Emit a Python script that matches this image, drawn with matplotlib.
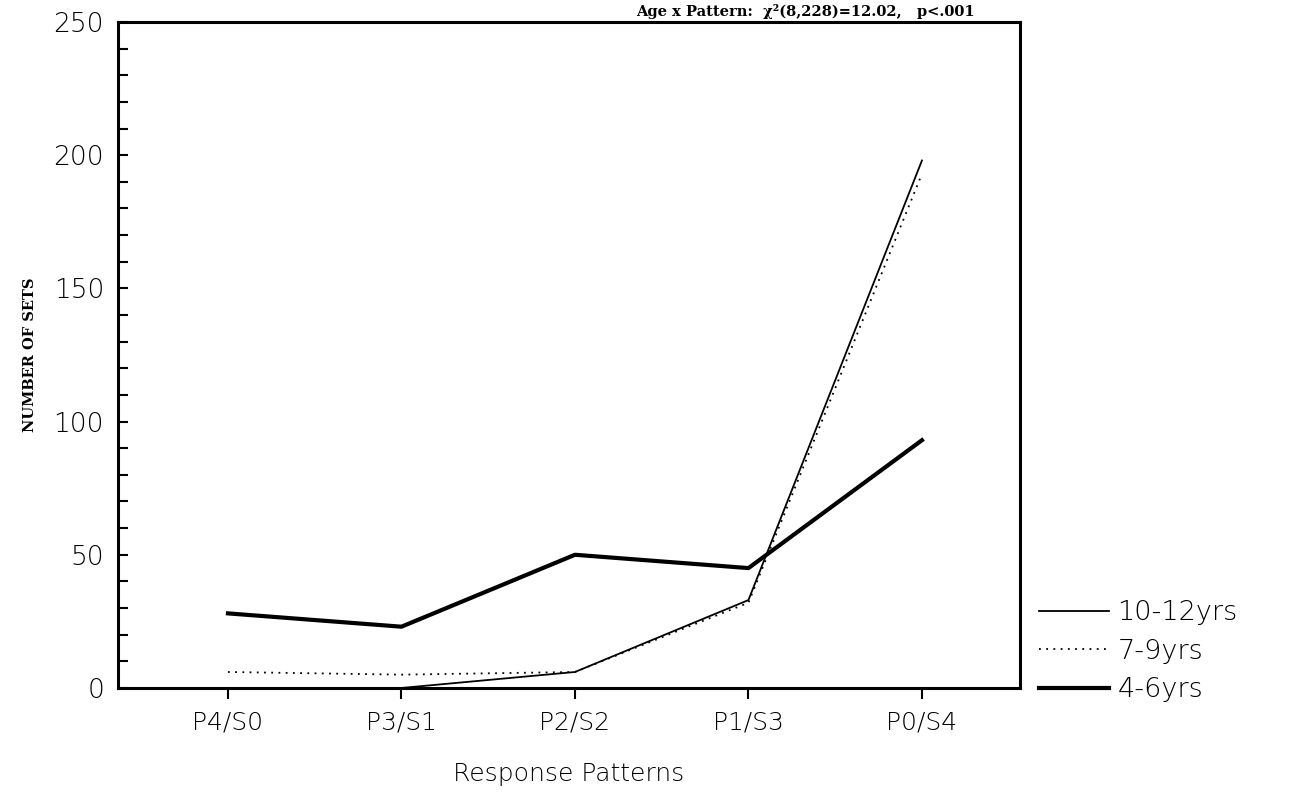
import numpy as np
from matplotlib import pyplot as plt

# response patterns on the x axis
patterns = ["P4/S0", "P3/S1", "P2/S2", "P1/S3", "P0/S4"]

# number of sets per age group
sets_10_12 = [0, 0, 6, 33, 198]
sets_7_9 = [6, 5, 6, 32, 193]
sets_4_6 = [28, 23, 50, 45, 93]

y_ticks = [0, 50, 100, 150, 200, 250]

fig = plt.figure(figsize=(12.99, 8.11), dpi=100)
ax = fig.add_axes([0.0908, 0.1517, 0.6944, 0.8212])

x = np.arange(len(patterns))
ax.plot(x, sets_10_12, color="black", linewidth=1.3, label="10-12yrs")
ax.plot(x, sets_7_9, color="black", linewidth=1.3, linestyle=(0, (1, 3)), label="7-9yrs")
ax.plot(x, sets_4_6, color="black", linewidth=3.0, label="4-6yrs")

ax.set_xlim(-0.634, 4.565)
ax.set_ylim(0, 250)
ax.set_xticks(x)
ax.set_xticklabels(patterns, fontsize=18, fontweight="light")
ax.set_yticks(y_ticks)
ax.set_yticklabels([str(v) for v in y_ticks], fontsize=19, fontweight="light")
ax.set_yticks(np.arange(0, 251, 10), minor=True)
ax.tick_params(axis="y", which="both", direction="in", length=7, width=1.5, pad=10)
ax.tick_params(axis="x", direction="out", length=8, width=1.5, pad=8)
for s in ax.spines.values():
    s.set_linewidth(2.2)

ax.set_ylabel("NUMBER OF SETS", fontsize=10.5, family="DejaVu Serif", fontweight="bold", labelpad=12)
ax.set_xlabel("Response Patterns", fontsize=18, fontweight="light", labelpad=20)

leg = ax.legend(loc="lower left", bbox_to_anchor=(1.0, -0.05), frameon=False,
                fontsize=19.5, handlelength=2.6, handletextpad=0.3, labelspacing=0.5,
                borderaxespad=0.3)
for t in leg.get_texts():
    t.set_fontweight("light")

fig.text(0.62, 0.995, "Age x Pattern:  \u03c7\u00b2(8,228)=12.02,   p<.001",
         fontsize=10.5, family="DejaVu Serif", fontweight="bold", ha="center", va="top")

fig.savefig("out.png", dpi=100)
